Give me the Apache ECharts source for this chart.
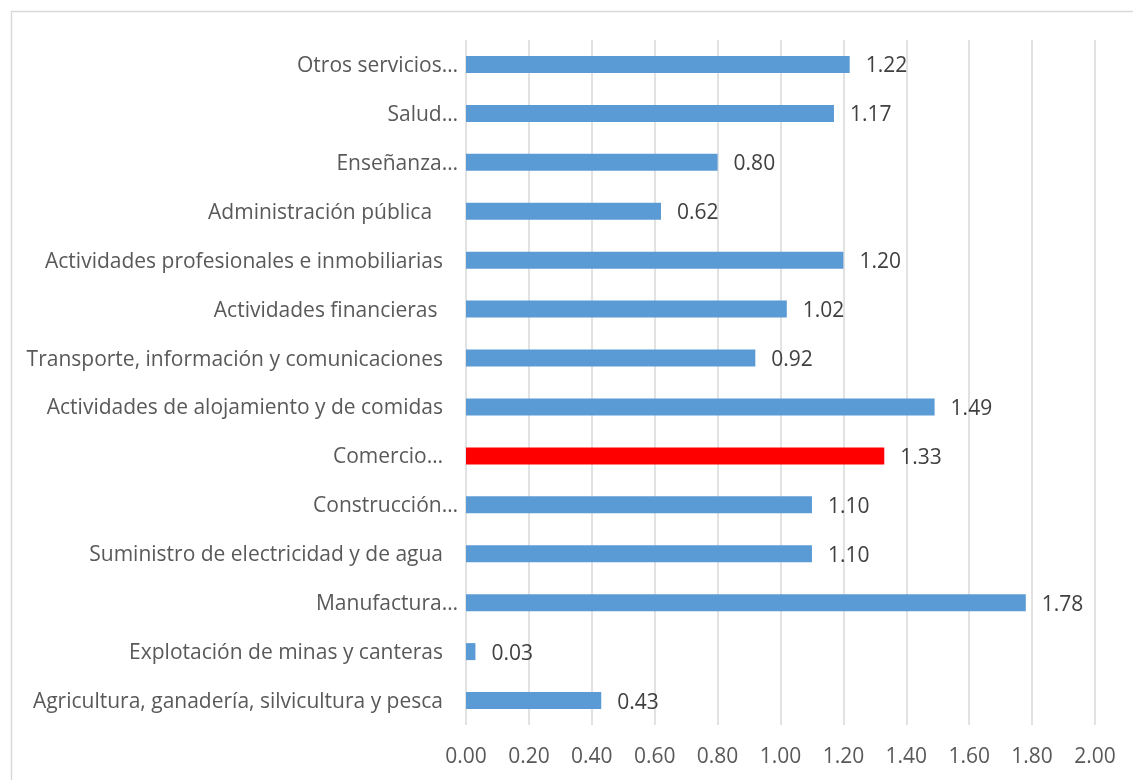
<!DOCTYPE html>
<html>
<head>
<meta charset="utf-8">
<script src="https://cdn.jsdelivr.net/npm/echarts@6/dist/echarts.min.js"></script>
<style>
  html, body { margin: 0; padding: 0; background: #fff; }
  #main { width: 1133px; height: 780px; }
</style>
</head>
<body>
<div id="main"></div>
<script>
// categories bottom to top
const sectores = [
  'Agricultura, ganadería, silvicultura y pesca',
  'Explotación de minas y canteras',
  'Manufactura…',
  'Suministro de electricidad y de agua',
  'Construcción…',
  'Comercio…',
  'Actividades de alojamiento y de comidas',
  'Transporte, información y comunicaciones',
  'Actividades financieras ',
  'Actividades profesionales e inmobiliarias',
  'Administración pública  ',
  'Enseñanza…',
  'Salud…',
  'Otros servicios…'
];
const valores = [0.43, 0.03, 1.78, 1.10, 1.10, 1.33, 1.49, 0.92, 1.02, 1.20, 0.62, 0.80, 1.17, 1.22];
const destacado = 'Comercio…';
const azul = '#5B9BD5';
const rojo = '#FF0000';

const chart = echarts.init(document.getElementById('main'));
chart.setOption({
  animation: false,
  textStyle: { fontFamily: 'Open Sans' },
  graphic: [{
    type: 'rect',
    shape: { x: 11.5, y: 11.5, width: 1300, height: 1000 },
    style: { fill: 'none', stroke: '#d9d9d9', lineWidth: 1.5 },
    silent: true
  }],
  grid: { left: 466, right: 38, top: 40, bottom: 55, containLabel: false },
  xAxis: {
    type: 'value',
    min: 0,
    max: 2,
    interval: 0.2,
    axisLine: { show: false },
    axisTick: { show: false },
    axisLabel: {
      formatter: v => v.toFixed(2),
      color: '#595959',
      fontSize: 21,
      margin: 22
    },
    splitLine: { show: true, lineStyle: { color: '#d9d9d9', width: 1.5 } }
  },
  yAxis: {
    type: 'category',
    data: sectores,
    axisLine: { show: false },
    axisTick: { show: false },
    axisLabel: {
      margin: 8,
      // Comercio keeps the wider gap like the plain labels
      formatter: v => (v.endsWith('…') && v !== destacado) ? '{e|' + v + '}' : '{n|' + v + '}',
      rich: {
        e: { color: '#595959', fontSize: 21, fontFamily: 'Open Sans', padding: [3, 0, 0, 0] },
        n: { color: '#595959', fontSize: 21, fontFamily: 'Open Sans', padding: [3, 15, 0, 0] }
      }
    }
  },
  series: [{
    type: 'bar',
    barWidth: 17,
    data: valores.map((v, i) => ({
      value: v,
      itemStyle: { color: sectores[i] === destacado ? rojo : azul }
    })),
    label: {
      show: true,
      position: 'right',
      distance: 16,
      offset: [0, 2],
      color: '#404040',
      fontSize: 21,
      formatter: p => p.value.toFixed(2)
    }
  }]
});
</script>
</body>
</html>
